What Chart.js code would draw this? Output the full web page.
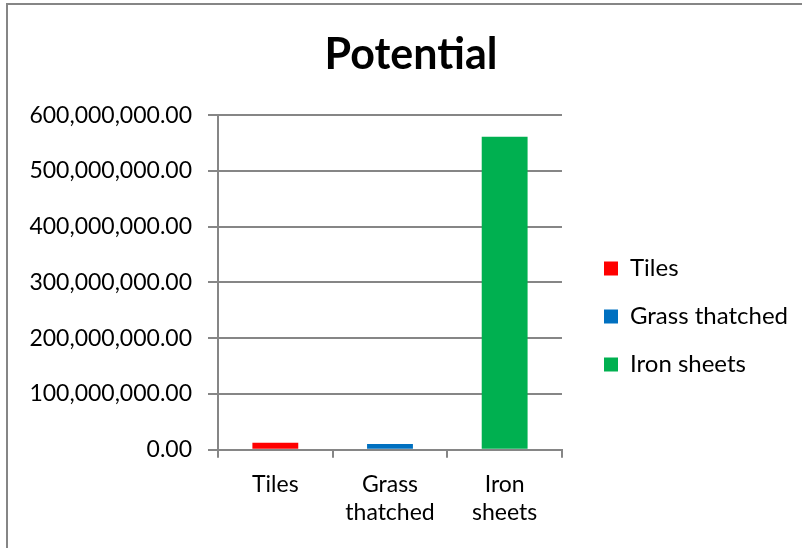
<!DOCTYPE html>
<html>
<head>
<meta charset="utf-8">
<script src="https://cdn.jsdelivr.net/npm/chart.js@4"></script>
<style>
  html, body { margin: 0; padding: 0; background: #fff; overflow: hidden; }
  #wrap { width: 802px; height: 548px; position: relative; }
  #frame { position: absolute; left: 6px; top: 3px; width: 820px; height: 560px;
           border-left: 2px solid #868686; border-top: 2px solid #868686; pointer-events: none; }
  canvas { display: block; }
</style>
</head>
<body>
<div id="wrap"><canvas id="chart"></canvas><div id="frame"></div></div>
<script>
const categories = [['Tiles'], ['Grass', 'thatched'], ['Iron', 'sheets']];
const seriesNames = ['Tiles', 'Grass thatched', 'Iron sheets'];
const values = [12500000, 10500000, 561000000];
const colors = ['#ff0000', '#0070c0', '#00b050'];
const yTicks = [0, 100000000, 200000000, 300000000, 400000000, 500000000, 600000000];

const FONT = 'Lato, "Open Sans", sans-serif';
const AXIS = '#868686';

// one dataset per category so each gets its own legend entry
const datasets = seriesNames.map((name, i) => ({
    label: name,
    data: values.map((v, j) => (j === i ? v : null)),
    backgroundColor: colors[i],
    borderWidth: 0,
    barPercentage: 0.4,
    categoryPercentage: 1
}));

// legend: don't let the layout squeeze it, then nudge legend and title to where Excel puts them
const nudge = {
    id: 'nudge',
    beforeInit(chart) {
        const lg = chart.legend;
        const origUpdate = lg.update;
        lg.update = function (maxWidth, maxHeight, margins) {
            return origUpdate.call(this, 300, maxHeight, margins);
        };
    },
    afterLayout(chart) {
        chart.legend.left += 18;
        chart.legend.right += 18;
        chart.legend.top += 47;
        chart.legend.bottom += 47;
        chart.titleBlock.left += 21;
        chart.titleBlock.right += 21;
    }
};

new Chart(document.getElementById('chart').getContext('2d'), {
    type: 'bar',
    data: { labels: categories, datasets },
    plugins: [nudge],
    options: {
        responsive: true,
        maintainAspectRatio: false,
        animation: false,
        skipNull: true,
        layout: { padding: { left: 0, right: 22, top: 0, bottom: 9 } },
        scales: {
            x: {
                grid: { display: true, drawOnChartArea: false, drawTicks: true, tickLength: 8, offset: true, color: AXIS, lineWidth: 2 },
                border: { display: true, color: AXIS, width: 2 },
                ticks: { color: '#000', font: { family: FONT, size: 23 }, padding: 13 }
            },
            y: {
                min: 0,
                max: 600000000,
                afterBuildTicks: (axis) => { axis.ticks = yTicks.map(v => ({ value: v })); },
                afterFit: (axis) => { axis.width = 218; },
                grid: { color: AXIS, lineWidth: 2, tickLength: 10 },
                border: { display: true, color: AXIS, width: 2 },
                ticks: {
                    color: '#000',
                    font: { family: FONT, size: 23 },
                    padding: 16,
                    callback: (v) => Number(v).toLocaleString('en-US', { minimumFractionDigits: 2, maximumFractionDigits: 2 })
                }
            }
        },
        plugins: {
            title: {
                display: true,
                text: 'Potential',
                color: '#000',
                font: { family: FONT, size: 43, weight: 'bold' },
                padding: { top: 29.5, bottom: 34 }
            },
            legend: {
                position: 'right',
                labels: { color: '#000', font: { family: FONT, size: 24 }, boxWidth: 14, boxHeight: 14, padding: 24 }
            },
            tooltip: { enabled: false }
        }
    }
});
</script>
</body>
</html>
